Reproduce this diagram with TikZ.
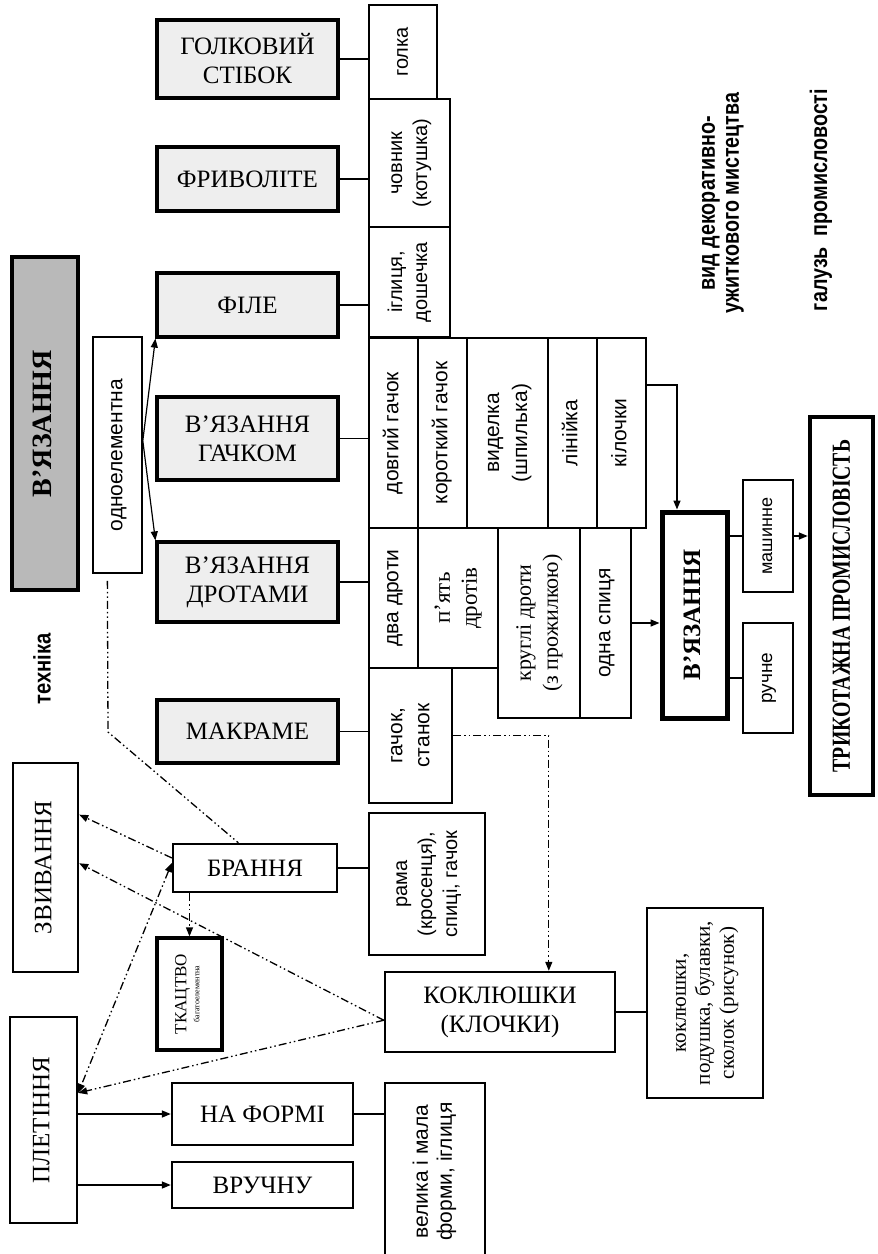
\documentclass[tikz,border=0pt]{standalone}
\usepackage{fontspec}
\setmainfont{Liberation Serif}
\setsansfont{Liberation Sans}
\usepackage{graphicx}
\usetikzlibrary{arrows.meta,calc}
\newcommand\mybox[7]{\node[#6,minimum width={(#4-#2)*1pt},minimum height={(#5-#3)*1pt}] (#1) at ({(#2+#4)/2},{(#3+#5)/2}) {#7};}
\newcommand\rtx[1]{\rotatebox{90}{\begin{tabular}{@{}c@{}}#1\end{tabular}}}
\newcommand\fcap{\fontsize{25}{29}\selectfont}
\newcommand\fsm{\sffamily\fontsize{21}{24}\selectfont}
\newcommand\fsr{\fontsize{22}{24}\selectfont}
\newcommand\fbs{\sffamily\bfseries\fontsize{24}{24}\selectfont}
\begin{document}
\begin{tikzpicture}[x=1pt,y=-1pt,
  mb/.style={draw,line width=3.2pt,fill=gray!13,inner sep=0pt,align=center,font=\fcap},
  wb/.style={draw,line width=2.4pt,fill=white,inner sep=0pt,align=center,font=\fcap},
  lb/.style={draw,line width=2pt,fill=white,inner sep=0pt,align=center,font=\fsm},
  lbs/.style={lb,font=\fsr},
  conn/.style={line width=1.5pt},
  arr/.style={conn,-{Triangle[length=9pt,width=7pt]}},
  dd/.style={line width=1.3pt,dash pattern=on 8pt off 3pt on 1.5pt off 3pt on 1.5pt off 3pt},
  dda/.style={dd,-{Triangle[length=9pt,width=7pt]}},
  lbl/.style={inner sep=0pt,font=\fbs,align=center}]
\useasboundingbox (0,0) rectangle (878,1254);
\clip (0,0) rectangle (878,1254);
\fill[white] (0,0) rectangle (878,1254);

% main technique boxes
\mybox{golk}{157}{20}{338}{98}{mb}{ГОЛКОВИЙ\\СТІБОК}
\mybox{friv}{157}{147}{338}{211}{mb}{ФРИВОЛІТЕ}
\mybox{file}{157}{273}{338}{337}{mb}{ФІЛЕ}
\mybox{gach}{157}{397}{338}{480}{mb}{В’ЯЗАННЯ\\ГАЧКОМ}
\mybox{drot}{157}{542}{338}{622}{mb}{В’ЯЗАННЯ\\ДРОТАМИ}
\mybox{makr}{157}{700}{338}{763}{mb}{МАКРАМЕ}
\mybox{bran}{173}{844}{337}{892}{wb}{БРАННЯ}
\mybox{tkac}{157}{938}{222}{1050}{wb,line width=3.2pt,font=\fontsize{17}{17}\selectfont}{\rtx{ТКАЦТВО\\[-4pt]{\fontsize{8}{9}\selectfont багатоелементна}}}
\mybox{nafo}{172}{1083}{353}{1145}{wb}{НА ФОРМІ}
\mybox{vruc}{172}{1162}{353}{1208}{wb}{ВРУЧНУ}
\mybox{plet}{10}{1017}{77}{1223}{wb}{\rtx{ПЛЕТІННЯ}}
\mybox{zviv}{13}{763}{78}{972}{wb}{\rtx{ЗВИВАННЯ}}
\mybox{vbig}{12}{257}{78}{590}{draw,line width=4pt,fill=gray!55,inner sep=0pt,font=\bfseries\fontsize{28}{30}\selectfont}{\rtx{В’ЯЗАННЯ}}
\mybox{odno}{93}{337}{142}{573}{lb,line width=1.6pt}{\rtx{одноелементна}}
\mybox{kokl}{385}{972}{615}{1052}{wb}{КОКЛЮШКИ\\(КЛОЧКИ)}
\mybox{koklt}{647}{908}{763}{1098}{lbs,font=\fontsize{21}{24}\selectfont}{\rtx{коклюшки,\\подушка, булавки,\\сколок (рисунок)}}
\mybox{velm}{385}{1083}{485}{1260}{lb}{\rtx{велика і мала\\форми, іглиця}}

% tool column
\mybox{golka}{369}{5}{437}{99}{lb,font=\sffamily\fontsize{20}{24}\selectfont}{\rtx{голка}}
\mybox{chov}{369}{99}{450}{227}{lb,font=\sffamily\fontsize{20}{25}\selectfont}{\rtx{човник\\(котушка)}}
\mybox{igl}{369}{227}{450}{337}{lb,font=\sffamily\fontsize{20}{25}\selectfont}{\rtx{іглиця,\\дошечка}}
\mybox{dovg}{369}{338}{418}{528}{lb}{\rtx{довгий гачок}}
\mybox{kor}{418}{338}{467}{528}{lb}{\rtx{короткий гачок}}
\mybox{vyd}{467}{338}{548}{528}{lb,font=\sffamily\fontsize{21}{28}\selectfont}{\rtx{виделка\\(шпилька)}}
\mybox{lin}{548}{338}{597}{528}{lb}{\rtx{лінійка}}
\mybox{kil}{597}{338}{646}{528}{lb}{\rtx{кілочки}}
\mybox{dva}{369}{528}{418}{668}{lb}{\rtx{два дроти}}
\mybox{pyat}{418}{528}{498}{668}{lbs,font=\fontsize{23}{27}\selectfont}{\rtx{п’ять\\дротів}}
\mybox{krug}{498}{528}{580}{718}{lbs,font=\fontsize{22}{27}\selectfont}{\rtx{круглі дроти\\(з прожилкою)}}
\mybox{odna}{580}{528}{631}{718}{lb}{\rtx{одна спиця}}
\mybox{gst}{369}{668}{452}{803}{lb,font=\sffamily\fontsize{21}{27}\selectfont}{\rtx{гачок,\\станок}}
\mybox{rama}{369}{813}{485}{955}{lb,font=\sffamily\fontsize{20}{25}\selectfont}{\rtx{рама\\(кросенця),\\спиці, гачок}}

% right part
\mybox{vyaz}{662}{512}{727}{718}{draw,line width=5pt,fill=white,inner sep=0pt,font=\bfseries\fontsize{25}{28}\selectfont}{\rtx{В’ЯЗАННЯ}}
\mybox{mash}{743}{480}{793}{592}{lb,font=\sffamily\fontsize{18}{20}\selectfont}{\rtx{машинне}}
\mybox{ruch}{743}{623}{793}{733}{lb,font=\sffamily\fontsize{19}{20}\selectfont}{\rtx{ручне}}
\mybox{tryk}{810}{417}{873}{795}{draw,line width=4.5pt,fill=white,inner sep=0pt,font=\bfseries\fontsize{26}{28}\selectfont}{\rotatebox{90}{\scalebox{0.76}[1]{ТРИКОТАЖНА ПРОМИСЛОВІСТЬ}}}

% free labels
\node[lbl] (tekh) at (42,669) {\rotatebox{90}{\scalebox{0.84}[1]{техніка}}};
\node[lbl] (vid) at (722,203) {\rotatebox{90}{\scalebox{0.82}[1]{\begin{tabular}{@{}c@{}}вид декоративно-\\ужиткового мистецтва\end{tabular}}}};
\node[lbl] (galuz) at (821,200) {\rotatebox{90}{\scalebox{0.82}[1]{галузь\ \ промисловості}}};

% solid connectors
\draw[conn] (golk.east) -- (golk.east -| golka.west);
\draw[conn] (friv.east) -- (friv.east -| chov.west);
\draw[conn] (file.east) -- (file.east -| igl.west);
\draw[conn] (gach.east) -- (gach.east -| dovg.west);
\draw[conn] (drot.east) -- (drot.east -| dva.west);
\draw[conn] (makr.east) -- (makr.east -| gst.west);
\draw[conn] (bran.east) -- (bran.east -| rama.west);
\draw[conn] (nafo.east) -- (nafo.east -| velm.west);
\draw[conn] (kokl.east) -- (kokl.east -| koklt.west);
\draw[conn] (vyaz.east |- mash.west) -- (mash.west);
\draw[conn] (vyaz.east |- ruch.west) -- (ruch.west);
\draw[arr] (mash.east) -- (mash.east -| tryk.west);
\draw[arr] (odna.east) -- (odna.east -| vyaz.west);
\coordinate (k1) at ($(kil.north east)!0.25!(kil.south east)$);
\coordinate (k2) at ($(vyaz.north west)!0.25!(vyaz.north east)$);
\draw[arr] (k1) -| (k2);
\coordinate (oc) at ($(odno.north east)!0.44!(odno.south east)$);
\draw[arr,line width=1.2pt] (oc) -- (file.south west);
\draw[arr,line width=1.2pt] (oc) -- (drot.north west);
\draw[arr] (plet.east |- nafo.west) -- (nafo.west);
\draw[arr] (plet.east |- vruc.west) -- (vruc.west);

% dash-dot connectors
\coordinate (d0) at ($(odno.south west)!0.3!(odno.south east)+(0,7)$);
\coordinate (d1) at (108,732);
\coordinate (d2) at ($(bran.north west)!0.4!(bran.north east)$);
\draw[dd] (d0) -- (d1) -- (d2);
\draw[dda] (bran.south -| tkac.north) -- (tkac.north);
\coordinate (b1) at ($(bran.north west)!0.3!(bran.south west)$);
\coordinate (b2) at ($(bran.north west)!0.4!(bran.south west)$);
\coordinate (z1) at ($(zviv.north east)!0.25!(zviv.south east)$);
\coordinate (z2) at ($(zviv.north east)!0.48!(zviv.south east)$);
\coordinate (p1) at ($(plet.north east)!0.37!(plet.south east)$);
\coordinate (kw) at ($(kokl.north west)!0.6!(kokl.south west)$);
\draw[dda] (b1) -- (z1);
\draw[dda] (kw) -- (z2);
\draw[dda] (kw) -- (p1);
\draw[dd,{Triangle[length=9pt,width=7pt]}-{Triangle[length=9pt,width=7pt]}] (b2) -- (p1);
\coordinate (g2) at ($(kokl.north west)!0.71!(kokl.north east)$);
\draw[dda] (gst.east) -| (g2);
\end{tikzpicture}
\end{document}
